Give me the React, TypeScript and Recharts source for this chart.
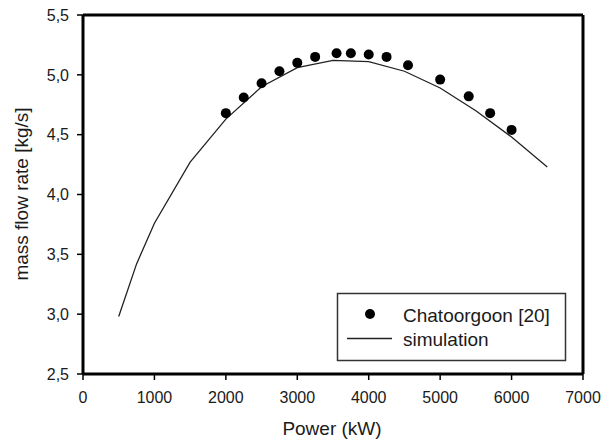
import React from 'react';
import { ComposedChart, Line, Scatter, XAxis, YAxis, ReferenceLine } from 'recharts';

// simulation curve (kW, kg/s)
const simPower = [500, 750, 1000, 1500, 2000, 2500, 3000, 3500, 4000, 4500, 5000, 5500, 6000, 6500];
const simFlow = [2.98, 3.42, 3.76, 4.27, 4.63, 4.9, 5.06, 5.12, 5.11, 5.03, 4.89, 4.7, 4.48, 4.23];

// Chatoorgoon [20] measurements
const expPower = [2000, 2250, 2500, 2750, 3000, 3250, 3550, 3750, 4000, 4250, 4550, 5000, 5400, 5700, 6000];
const expFlow = [4.68, 4.81, 4.93, 5.03, 5.1, 5.15, 5.18, 5.18, 5.17, 5.15, 5.08, 4.96, 4.82, 4.68, 4.54];

const xTicks = [0, 1000, 2000, 3000, 4000, 5000, 6000, 7000];
const yTicks = [2.5, 3.0, 3.5, 4.0, 4.5, 5.0, 5.5];

const simData = simPower.map((p, i) => ({ power: p, flow: simFlow[i] }));
const expData = expPower.map((p, i) => ({ power: p, flow: expFlow[i] }));

const FONT = '"Liberation Sans", Arial, sans-serif';
const INK = '#1a1a1a';

const Dot = (props: any) => <circle cx={props.cx} cy={props.cy} r={5} fill="#000" />;

const XTitle = () => (
  <text x={332} y={435} textAnchor="middle" fill={INK} fontSize={19} fontFamily={FONT}>
    Power (kW)
  </text>
);

const YTitle = () => (
  <text x={28} y={194} transform="rotate(-90 28 194)" textAnchor="middle" fill={INK} fontSize={19} fontFamily={FONT}>
    mass flow rate [kg/s]
  </text>
);

// legend box drawn on top of the plot, bottom right
const LegendBox = () => (
  <svg width={613} height={440} style={{ position: 'absolute', left: 0, top: 0, pointerEvents: 'none' }}>
    <rect x={337.5} y={293.5} width={228} height={67} fill="#fff" stroke="#333" strokeWidth={1.5} />
    <circle cx={370} cy={314} r={5} fill="#000" />
    <line x1={347} x2={392} y1={338.5} y2={338.5} stroke="#222" strokeWidth={1.3} />
    <text x={403} y={321.5} fill={INK} fontSize={19} fontFamily={FONT}>Chatoorgoon [20]</text>
    <text x={403} y={346} fill={INK} fontSize={19} fontFamily={FONT}>simulation</text>
  </svg>
);

export default function App() {
  return (
    <div style={{ position: 'absolute', left: 0, top: 0, width: 613, height: 440, background: '#fff' }}>
      <ComposedChart width={613} height={440} margin={{ top: 15, right: 30, bottom: 0, left: 0 }}>
        <XAxis
          type="number"
          dataKey="power"
          domain={[0, 7000]}
          ticks={xTicks}
          axisLine={{ stroke: '#000', strokeWidth: 3 }}
          tickLine={{ stroke: '#000', strokeWidth: 1.5 }}
          tickSize={6}
          tickMargin={12}
          height={66}
          tick={{ fill: INK, fontSize: 16, fontFamily: FONT }}
          label={<XTitle />}
        />
        <YAxis
          type="number"
          dataKey="flow"
          domain={[2.5, 5.5]}
          ticks={yTicks}
          width={83}
          axisLine={{ stroke: '#000', strokeWidth: 3 }}
          tickLine={{ stroke: '#000', strokeWidth: 1.5 }}
          tickSize={6}
          tickMargin={8}
          tickFormatter={(v: number) => v.toFixed(1).replace('.', ',')}
          tick={{ fill: INK, fontSize: 16, fontFamily: FONT }}
          label={<YTitle />}
        />
        <ReferenceLine y={5.5} stroke="#000" strokeWidth={3} />
        <ReferenceLine x={7000} stroke="#000" strokeWidth={3} />
        <Line
          data={simData}
          dataKey="flow"
          type="linear"
          stroke="#222"
          strokeWidth={1.3}
          dot={false}
          activeDot={false}
          isAnimationActive={false}
        />
        <Scatter data={expData} dataKey="flow" shape={Dot} isAnimationActive={false} />
      </ComposedChart>
      <LegendBox />
    </div>
  );
}
